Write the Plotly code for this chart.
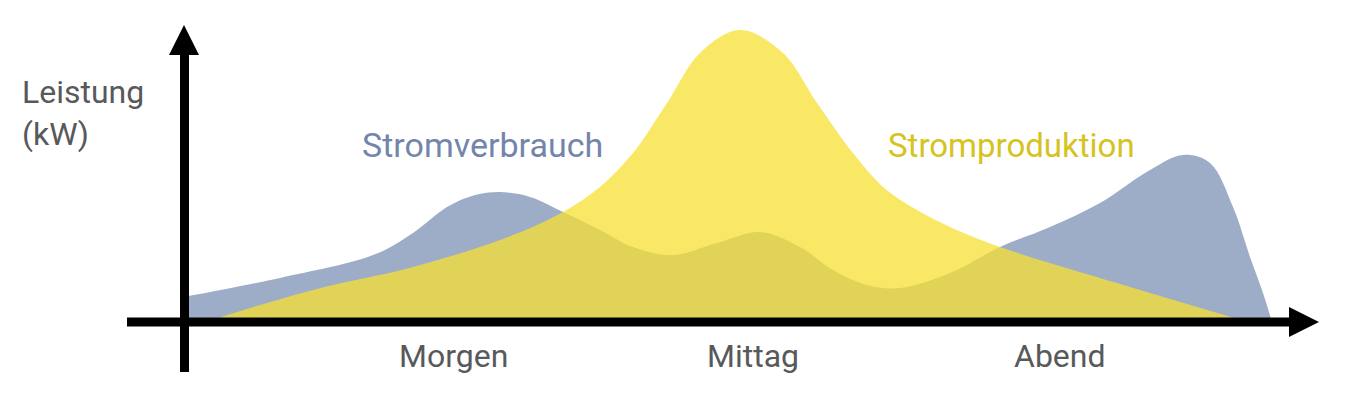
import plotly.graph_objects as go

# Time of day (hours) and power (kW, illustrative)
verbrauch_t = [0.60, 2.54, 4.40, 5.20, 5.88, 6.44, 6.94, 7.54, 8.20, 8.94, 9.60, 10.40, 11.28, 12.14,
               12.94, 13.60, 14.28, 14.94, 15.94, 16.94, 17.94, 18.94, 19.94, 20.60, 21.14, 21.60,
               21.94, 22.20, 22.38]
verbrauch_kw = [0.83, 1.47, 2.23, 2.97, 3.83, 4.23, 4.33, 4.17, 3.67, 3.07, 2.50, 2.23, 2.63, 3.00,
                2.50, 1.73, 1.23, 1.13, 1.63, 2.50, 3.17, 3.97, 5.07, 5.57, 5.30, 3.83,
                2.17, 0.97, 0.0]

produktion_t = [1.04, 3.20, 5.20, 7.20, 8.20, 8.94, 9.60, 10.28, 10.94, 11.74, 12.60, 13.28, 14.00,
                14.60, 15.28, 15.94, 16.94, 18.60, 19.94, 21.90]
produktion_kw = [0.0, 1.07, 1.83, 2.90, 3.67, 4.50, 5.63, 7.30, 8.97, 9.73, 8.97, 7.30, 5.63,
                 4.50, 3.73, 3.17, 2.50, 1.63, 0.97, 0.0]

tick_pos = [6.0, 12.0, 18.14]
tick_labels = ["Morgen", "Mittag", "Abend"]

W, H = 1350, 393
def px(x):
    return x / W
def py(y):
    return (H - y) / H

fig = go.Figure()
fig.add_trace(go.Scatter(
    x=verbrauch_t, y=verbrauch_kw, mode="lines", fill="tozeroy",
    line=dict(width=0, shape="spline", smoothing=1.0, color="#9DADC8"),
    fillcolor="#9DADC8", hoverinfo="skip", showlegend=False))
fig.add_trace(go.Scatter(
    x=produktion_t, y=produktion_kw, mode="lines", fill="tozeroy",
    line=dict(width=0, shape="spline", smoothing=1.0, color="rgba(247,224,51,0.75)"),
    fillcolor="rgba(247,224,51,0.75)", hoverinfo="skip", showlegend=False))

shapes = [
    dict(type="line", xref="paper", yref="paper", x0=px(184.5), x1=px(184.5), y0=py(52), y1=py(372),
         line=dict(color="black", width=9), layer="above"),
    dict(type="line", xref="paper", yref="paper", x0=px(127), x1=px(1294), y0=py(322), y1=py(322),
         line=dict(color="black", width=9), layer="above"),
    dict(type="path", xref="paper", yref="paper",
         path=f"M {px(169)} {py(55)} L {px(184)} {py(25)} L {px(199)} {py(55)} Z",
         fillcolor="black", line=dict(width=0), layer="above"),
    dict(type="path", xref="paper", yref="paper",
         path=f"M {px(1289)} {py(307)} L {px(1319)} {py(322)} L {px(1289)} {py(337)} Z",
         fillcolor="black", line=dict(width=0), layer="above"),
]

FONT = "Roboto"
gray = "#58595B"
annotations = [
    dict(text="Leistung<br>(kW)", xref="paper", yref="paper", x=px(20), y=py(113),
         xanchor="left", yanchor="middle", align="left", showarrow=False,
         font=dict(family=FONT, size=32, color=gray)),
    dict(text="Stromverbrauch", xref="paper", yref="paper", x=px(482), y=py(145),
         xanchor="center", yanchor="middle", showarrow=False,
         font=dict(family=FONT, size=34, color="#7385AB")),
    dict(text="Stromproduktion", xref="paper", yref="paper", x=px(1011), y=py(145),
         xanchor="center", yanchor="middle", showarrow=False,
         font=dict(family=FONT, size=33, color="#D5C31E")),
]
for t, lab in zip(tick_pos, tick_labels):
    annotations.append(dict(text=lab, xref="x", yref="paper", x=t, y=py(356),
                            xanchor="center", yanchor="middle", showarrow=False,
                            font=dict(family=FONT, size=32, color=gray)))

fig.update_layout(
    width=W, height=H, margin=dict(l=0, r=0, t=0, b=0),
    paper_bgcolor="white", plot_bgcolor="white",
    xaxis=dict(range=[-3.06, 23.94], visible=False, fixedrange=True),
    yaxis=dict(range=[-71 / 30, 322 / 30], visible=False, fixedrange=True),
    shapes=shapes, annotations=annotations, showlegend=False,
)
fig.write_html("out.html", config={"displayModeBar": False},
               post_script="document.body.style.margin='0px';document.body.style.overflow='hidden';")
